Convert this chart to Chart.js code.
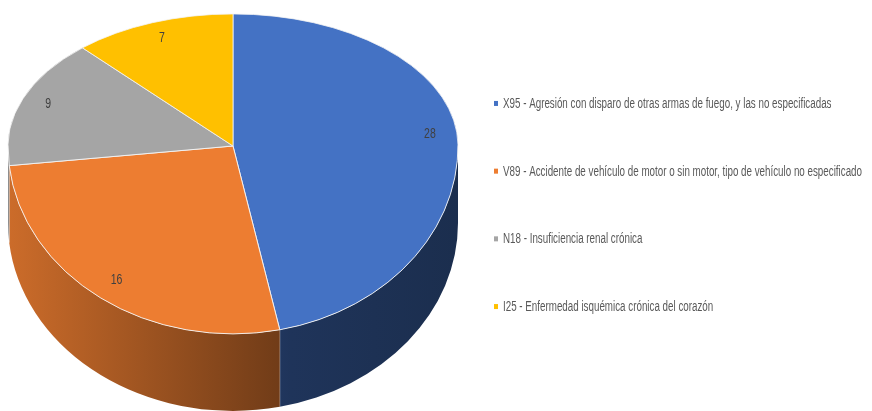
<!DOCTYPE html>
<html>
<head>
<meta charset="utf-8">
<script src="https://cdn.jsdelivr.net/npm/chart.js@4.4.1/dist/chart.umd.min.js"></script>
<style>
  html, body { margin: 0; background: #fff; }
</style>
</head>
<body>
<canvas id="causas-pie" width="872" height="411"></canvas>
<script>
var categorias = [
  "X95 - Agresión con disparo de otras armas de fuego, y las no especificadas",
  "V89 - Accidente de vehículo de motor o sin motor, tipo de vehículo no especificado",
  "N18 - Insuficiencia renal crónica",
  "I25 - Enfermedad isquémica crónica del corazón"
];
var defunciones = [28, 16, 9, 7];
var colores = ['#4472C4', '#ED7D31', '#A5A5A5', '#FFC000'];

var FUENTE = '"Liberation Sans", Arial, sans-serif';
var ESTRECHO = 0.70; // letra condensada como en el original
// vista 3D: centro en pantalla, aplastamiento mitad de arriba / de abajo, grosor
var CY = 146, K_ARRIBA = 0.587, K_ABAJO = 0.835, GROSOR = 77;

function sombra(hex, f) {
  var n = parseInt(hex.slice(1), 16);
  var r = Math.round(((n >> 16) & 255) * f), g = Math.round(((n >> 8) & 255) * f), b = Math.round((n & 255) * f);
  return 'rgb(' + r + ',' + g + ',' + b + ')';
}

function vista(ctx, cy, k) {
  ctx.translate(0, CY);
  ctx.scale(1, k);
  ctx.translate(0, -cy);
}

function texto(ctx, t, x, y) {
  ctx.save();
  ctx.translate(x, y);
  ctx.scale(ESTRECHO, 1);
  ctx.fillText(t, 0, 0);
  ctx.restore();
}

var pie3d = {
  id: 'pie3d',
  beforeDatasetsDraw: function(chart) {
    var ctx = chart.ctx, arcs = chart.getDatasetMeta(0).data;
    var cx = arcs[0].x, cy = arcs[0].y, r = arcs[0].outerRadius;
    var d = GROSOR / K_ABAJO;
    ctx.save();
    vista(ctx, cy, K_ABAJO);
    // pared lateral (solo la parte delantera)
    arcs.forEach(function(arc, i) {
      var a = Math.max(arc.startAngle, 0), b = Math.min(arc.endAngle, Math.PI);
      if (a >= b) return;
      var g = ctx.createLinearGradient(cx - r, 0, cx + r, 0);
      g.addColorStop(0, sombra(colores[i], 0.86));
      g.addColorStop(0.63, sombra(colores[i], 0.46));
      g.addColorStop(1, sombra(colores[i], 0.40));
      ctx.beginPath();
      ctx.arc(cx, cy, r, a, b);
      ctx.arc(cx, cy + d, r, b, a, true);
      ctx.closePath();
      ctx.fillStyle = g;
      ctx.fill();
      if (arc.endAngle < Math.PI) {
        ctx.beginPath();
        ctx.moveTo(cx + r * Math.cos(b), cy + r * Math.sin(b));
        ctx.lineTo(cx + r * Math.cos(b), cy + d + r * Math.sin(b));
        ctx.strokeStyle = 'rgba(255,255,255,0.55)';
        ctx.lineWidth = 1;
        ctx.stroke();
      }
    });
    // mitad de abajo de la cara superior (la dibuja Chart.js)
    ctx.beginPath();
    ctx.rect(0, cy, chart.width, r + 10);
    ctx.clip();
  },
  afterDatasetsDraw: function(chart) {
    var ctx = chart.ctx, arcs = chart.getDatasetMeta(0).data;
    var cy = arcs[0].y, r = arcs[0].outerRadius;
    ctx.restore();
    // mitad de arriba de la cara superior
    ctx.save();
    vista(ctx, cy, K_ARRIBA);
    ctx.beginPath();
    ctx.rect(0, cy - r - 10, chart.width, r + 10);
    ctx.clip();
    arcs.forEach(function(arc) { arc.draw(ctx, chart.chartArea); });
    ctx.restore();
    // etiquetas de valor
    var valores = chart.data.datasets[0].data;
    ctx.save();
    ctx.font = '15px ' + FUENTE;
    ctx.fillStyle = '#404040';
    ctx.textAlign = 'center';
    ctx.textBaseline = 'middle';
    arcs.forEach(function(arc, i) {
      var m = (arc.startAngle + arc.endAngle) / 2, f = 0.88;
      var s = Math.sin(m);
      var k = s < 0 ? K_ARRIBA : K_ABAJO;
      texto(ctx, String(valores[i]), arc.x + Math.cos(m) * arc.outerRadius * f, CY + k * s * arc.outerRadius * f);
    });
    ctx.restore();
  }
};

var leyenda = {
  id: 'leyenda',
  afterDraw: function(chart) {
    var ctx = chart.ctx, n = chart.data.labels.length, paso = 67.7;
    var y0 = chart.height / 2 - (n - 1) * paso / 2;
    ctx.save();
    ctx.font = '14px ' + FUENTE;
    ctx.textBaseline = 'middle';
    ctx.textAlign = 'left';
    chart.data.labels.forEach(function(t, i) {
      var y = y0 + i * paso;
      ctx.fillStyle = colores[i];
      ctx.fillRect(494, y - 3, 4, 5);
      ctx.fillStyle = '#595959';
      texto(ctx, t, 503, y);
    });
    ctx.restore();
  }
};

var ctx = document.getElementById('causas-pie').getContext('2d');
var chart = new Chart(ctx, {
  type: 'pie',
  data: {
    labels: categorias,
    datasets: [{
      data: defunciones,
      backgroundColor: colores,
      borderColor: '#f4f4f4',
      borderWidth: 1,
      radius: 225,
      clip: false
    }]
  },
  options: {
    responsive: false,
    animation: false,
    events: [],
    layout: { padding: { right: 406 } },
    plugins: { legend: { display: false }, tooltip: { enabled: false } }
  },
  plugins: [pie3d, leyenda]
});
</script>
</body>
</html>
